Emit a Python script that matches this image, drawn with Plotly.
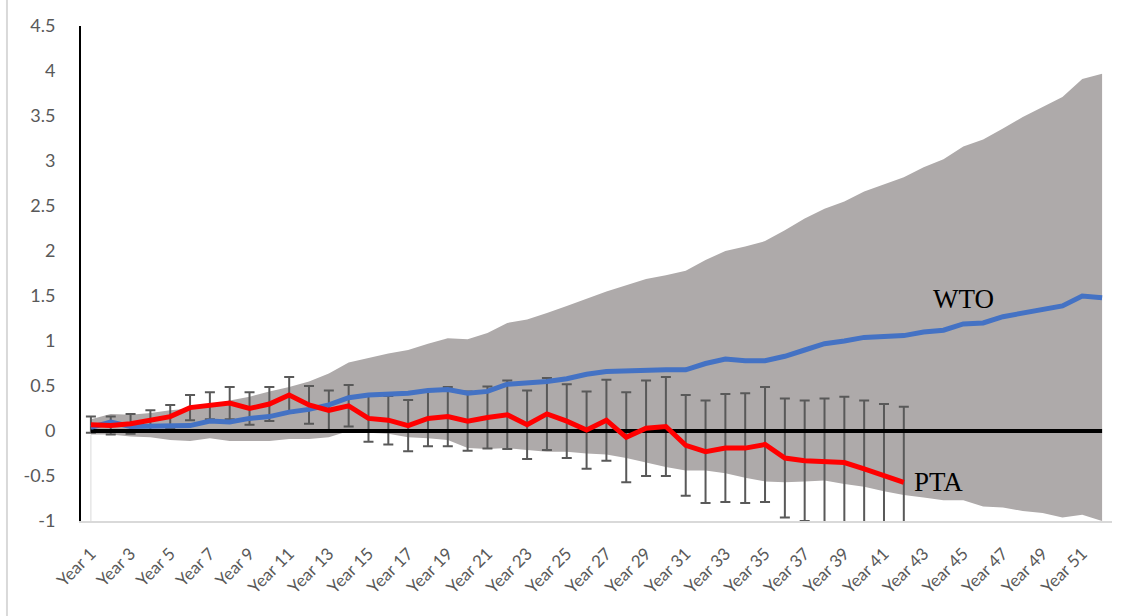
import plotly.graph_objects as go

years = [f"Year {i}" for i in range(1, 53)]

wto = [0.04, 0.10, 0.05, 0.05, 0.05, 0.06, 0.11, 0.10, 0.14, 0.16,
       0.21, 0.24, 0.29, 0.37, 0.40, 0.41, 0.42, 0.45, 0.46, 0.42,
       0.44, 0.52, 0.53, 0.55, 0.58, 0.63, 0.66, 0.67, 0.67, 0.68,
       0.68, 0.75, 0.80, 0.78, 0.78, 0.83, 0.90, 0.97, 1.00, 1.04,
       1.05, 1.06, 1.10, 1.12, 1.19, 1.20, 1.27, 1.31, 1.35, 1.39,
       1.50, 1.48]

wto_upper = [0.13, 0.19, 0.18, 0.20, 0.23, 0.25, 0.29, 0.34, 0.38, 0.44,
             0.49, 0.55, 0.64, 0.76, 0.81, 0.86, 0.90, 0.97, 1.03, 1.02,
             1.09, 1.20, 1.24, 1.31, 1.39, 1.47, 1.55, 1.62, 1.69, 1.73,
             1.78, 1.90, 2.00, 2.05, 2.11, 2.23, 2.36, 2.47, 2.55, 2.66,
             2.74, 2.82, 2.93, 3.02, 3.16, 3.24, 3.36, 3.49, 3.60, 3.71,
             3.91, 3.97]

wto_lower = [-0.04, -0.04, -0.06, -0.07, -0.10, -0.11, -0.08, -0.11, -0.11, -0.11,
             -0.09, -0.09, -0.07, 0.00, -0.02, -0.03, -0.07, -0.08, -0.10, -0.19,
             -0.20, -0.19, -0.21, -0.23, -0.23, -0.25, -0.26, -0.30, -0.35, -0.40,
             -0.44, -0.44, -0.47, -0.52, -0.56, -0.57, -0.56, -0.55, -0.59, -0.62,
             -0.67, -0.71, -0.74, -0.77, -0.77, -0.84, -0.85, -0.89, -0.91, -0.96,
             -0.93, -1.00]

pta = [0.07, 0.06, 0.08, 0.12, 0.16, 0.26, 0.28, 0.31, 0.25, 0.30,
       0.40, 0.29, 0.23, 0.28, 0.14, 0.12, 0.06, 0.14, 0.16, 0.11,
       0.15, 0.18, 0.07, 0.19, 0.11, 0.01, 0.12, -0.07, 0.03, 0.05,
       -0.16, -0.23, -0.19, -0.19, -0.15, -0.30, -0.33, -0.34, -0.35, -0.42,
       -0.50, -0.57]

pta_err = [0.09, 0.10, 0.11, 0.11, 0.13, 0.14, 0.15, 0.18, 0.18, 0.19,
           0.20, 0.21, 0.22, 0.23, 0.26, 0.27, 0.285, 0.31, 0.33, 0.33,
           0.345, 0.38, 0.38, 0.40, 0.41, 0.43, 0.45, 0.50, 0.53, 0.55,
           0.56, 0.57, 0.60, 0.61, 0.64, 0.66, 0.67, 0.70, 0.73, 0.76,
           0.80, 0.84]

zero = [0.0] * len(years)

y_tickvals = [-1, -0.5, 0, 0.5, 1, 1.5, 2, 2.5, 3, 3.5, 4, 4.5]
y_ticktext = ["-1", "-0.5", "0", "0.5", "1", "1.5", "2", "2.5", "3", "3.5", "4", "4.5"]
x_tickvals = years[::2]

pta_years = years[:len(pta)]

fig = go.Figure()

# thin edge of the area at the first category
fig.add_trace(go.Scatter(x=[years[0], years[0]], y=[y_tickvals[0], wto_lower[0]],
                         mode="lines", line=dict(color="#D9D9D9", width=1),
                         hoverinfo="skip", showlegend=False))

# confidence band
fig.add_trace(go.Scatter(x=years, y=wto_lower, mode="lines", line=dict(width=0),
                         hoverinfo="skip", showlegend=False))
fig.add_trace(go.Scatter(x=years, y=wto_upper, mode="lines", line=dict(width=0),
                         fill="tonexty", fillcolor="#AEAAAA",
                         hoverinfo="skip", showlegend=False))

# PTA error bars
fig.add_trace(go.Scatter(x=pta_years, y=pta, mode="markers",
                         marker=dict(size=1, color="rgba(0,0,0,0)"),
                         error_y=dict(type="data", array=pta_err, symmetric=True,
                                      color="#595959", thickness=2, width=5),
                         hoverinfo="skip", showlegend=False))

# zero line
fig.add_trace(go.Scatter(x=years, y=zero, mode="lines",
                         line=dict(color="#000000", width=4),
                         hoverinfo="skip", showlegend=False))

# WTO
fig.add_trace(go.Scatter(x=years, y=wto, mode="lines", name="WTO",
                         line=dict(color="#4472C4", width=5), showlegend=False))

# PTA
fig.add_trace(go.Scatter(x=pta_years, y=pta, mode="lines", name="PTA",
                         line=dict(color="#FF0000", width=5), showlegend=False))

fig.add_annotation(x=years[44], y=1.47, text="WTO", showarrow=False,
                   xanchor="center", yanchor="middle",
                   font=dict(family="Liberation Serif", size=27, color="#000000"))
fig.add_annotation(x=pta_years[-1], y=pta[-1], text="PTA", showarrow=False,
                   xanchor="left", yanchor="middle", xshift=8,
                   font=dict(family="Liberation Serif", size=27, color="#000000"))

# outer chart border (left edge visible)
fig.add_shape(type="line", xref="paper", yref="paper", x0=-0.0718, x1=-0.0718,
              y0=-0.2, y1=1.1, line=dict(color="#D9D9D9", width=2))

fig.update_layout(
    width=1137, height=616,
    margin=dict(l=81, r=25, t=26, b=95),
    paper_bgcolor="white", plot_bgcolor="white",
    font=dict(family="Lato", color="#595959"),
    showlegend=False,
)
fig.update_xaxes(
    type="category", categoryorder="array", categoryarray=years,
    range=[-0.5, len(years) - 0.5],
    tickmode="array", tickvals=x_tickvals, ticktext=x_tickvals,
    tickangle=-45, tickfont=dict(family="Lato", size=17, color="#595959"),
    showgrid=False, zeroline=False,
    showline=True, linecolor="#D9D9D9", linewidth=2,
    ticks="outside", ticklen=14, tickcolor="rgba(0,0,0,0)", fixedrange=True,
)
fig.update_yaxes(
    range=[-1, 4.5], tickmode="array", tickvals=y_tickvals, ticktext=y_ticktext,
    tickfont=dict(family="Lato", size=18, color="#595959"),
    showgrid=False, zeroline=False,
    showline=True, linecolor="#000000", linewidth=2,
    ticks="outside", ticklen=20, tickcolor="rgba(0,0,0,0)",
)

fig.write_html("out.html")
